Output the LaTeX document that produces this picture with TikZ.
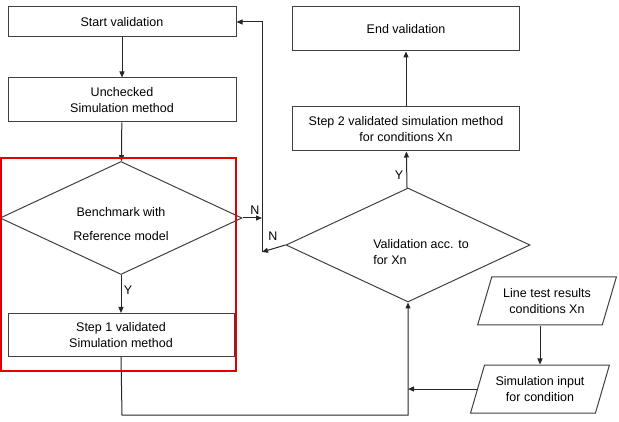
\documentclass[tikz,border=0pt]{standalone}
\usepackage{fontspec}
\setmainfont{Liberation Sans}
\usetikzlibrary{shapes.geometric,arrows.meta}

\begin{document}
\begin{tikzpicture}
[
x=1pt, y=-1pt,
font=\fontsize{12.5}{16}\selectfont,
flowbox/.style={rectangle, draw=black!75, line width=1pt, align=center, inner sep=2},
flowdiamond/.style={diamond, draw=black!75, line width=1pt, inner sep=0},
flowdata/.style={trapezium, trapezium left angle=66, trapezium right angle=114, trapezium stretches=true, draw=black!75, line width=1pt, align=center, minimum width=139, minimum height=48, inner sep=0},
flowarrow/.style={draw=black!85, line width=1pt, -{Triangle[length=6pt,width=5pt]}},
hilite/.style={draw=red!90!black, line width=2pt}
]
\useasboundingbox (0,0) rectangle (619,422);
%Nodes
\node[flowbox, minimum width=228, minimum height=30] at(122,22)	(start) {Start validation};
\node[flowbox, minimum width=228, minimum height=44] at(122,100)	(unchecked) {Unchecked\\Simulation method};
\node[flowdiamond, minimum width=242, minimum height=113] at(121,218)	(bench) {};
\node[flowbox, minimum width=226, minimum height=43] at(121,335)	(step1) {Step 1 validated\\Simulation method};
\node[flowdiamond, minimum width=244, minimum height=114] at(408,245)	(valid) {};
\node[flowbox, minimum width=227, minimum height=44] at(406,129)	(step2) {Step 2 validated simulation method\\for conditions Xn};
\node[flowbox, minimum width=227, minimum height=44] at(406,29)	(endv) {End validation};
\node[flowdata] at(547,301)	(linetest) {Line test results\\conditions Xn};
\node[flowdata] at(540,389)	(siminput) {Simulation input\\for condition};
%Texts
\node[align=center]	(benchtext) at(121,224) {Benchmark with\\[8pt]Reference model};
\node[align=left]	(validtext) at(421,252) {Validation acc. to\\for Xn};
\node[]	(n1) at(255,210) {N};
\node[]	(n2) at(273,236) {N};
\node[]	(y1) at(128,290) {Y};
\node[]	(y2) at(399,175) {Y};
%Joints
\coordinate (jlow) at(262,252);
\coordinate (jbot) at(122,415);
%Arrows
\draw[flowarrow] (start) -- (unchecked);
\draw[flowarrow] (unchecked) -- (bench);
\draw[flowarrow] (bench) -- (step1);
\draw[flowarrow] (bench.east) -- (bench.east -| jlow);
\draw[flowarrow] (valid.west) -- (jlow);
\draw[flowarrow] (jlow) |- (start.east);
\draw[flowarrow] (step1.south) -- (jbot) -| (valid.south);
\draw[flowarrow] (siminput.west) -- (siminput.west -| valid.south);
\draw[flowarrow] (siminput.north |- linetest.south) -- (siminput.north);
\draw[flowarrow] (valid) -- (step2);
\draw[flowarrow] (step2) -- (endv);
%Highlight
\draw[hilite] (1,158) rectangle (236,371);
\end{tikzpicture}
\end{document}
